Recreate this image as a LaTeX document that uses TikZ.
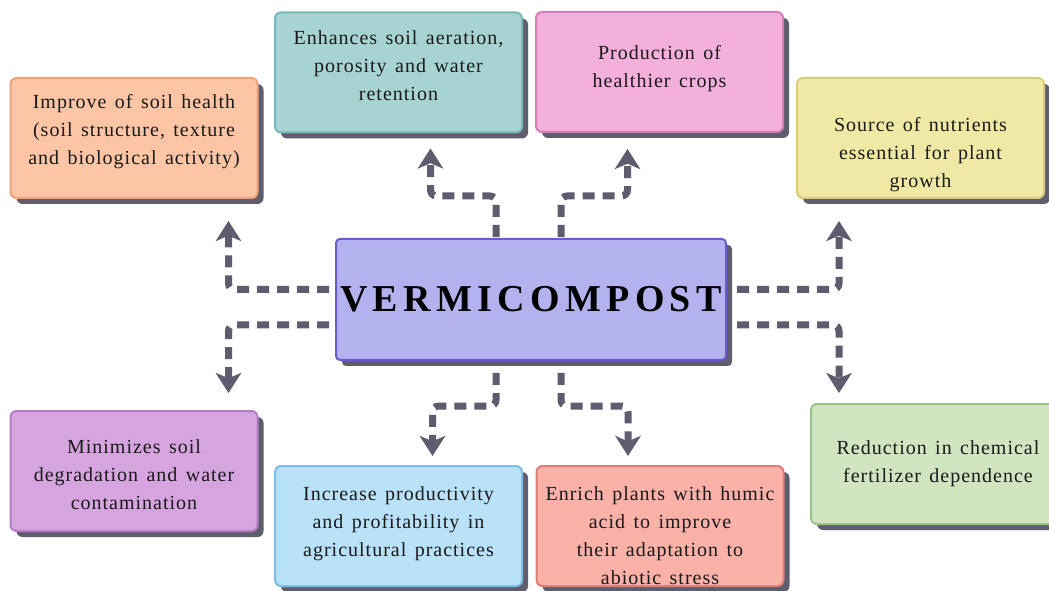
\documentclass[tikz,border=0pt]{standalone}
\usepackage{fontspec}
\setmainfont{Liberation Serif}[LetterSpace=5,WordSpace=1.4]
\newfontfamily\vermifont[LetterSpace=14]{Liberation Serif Bold}
\usetikzlibrary{shadows,arrows.meta,calc}
\definecolor{shd}{HTML}{5F5E6E}
\definecolor{arr}{HTML}{5E5C6E}
\definecolor{oF}{HTML}{FCC5A6}\definecolor{oD}{HTML}{EFA37A}
\definecolor{tF}{HTML}{A8D3D3}\definecolor{tD}{HTML}{78B8B8}
\definecolor{pF}{HTML}{F2B0DB}\definecolor{pD}{HTML}{D77EBA}
\definecolor{yF}{HTML}{F0E9A6}\definecolor{yD}{HTML}{D6CC7A}
\definecolor{cF}{HTML}{B4B2EE}\definecolor{cD}{HTML}{6A5ACD}
\definecolor{mF}{HTML}{D6A5E0}\definecolor{mD}{HTML}{B57CC8}
\definecolor{bF}{HTML}{B9E1F8}\definecolor{bD}{HTML}{7DBEE6}
\definecolor{rF}{HTML}{F9B1A8}\definecolor{rD}{HTML}{DD7F76}
\definecolor{gF}{HTML}{D1E5C1}\definecolor{gD}{HTML}{9CC48A}
\definecolor{txt}{HTML}{1A1A1A}
\begin{document}
\begin{tikzpicture}[x=0.75pt,y=-0.75pt,
  box/.style={draw=#1D,fill=#1F,line width=1.5pt,rounded corners=4.5pt,
    minimum width=185.25pt,minimum height=90pt,inner sep=0pt,
    drop shadow={shadow xshift=4.5pt,shadow yshift=-4.5pt,fill=shd,opacity=1}},
  lbl/.style={anchor=north,align=center,inner sep=0pt,text=txt,
    font=\fontsize{15}{21}\selectfont},
  conn/.style={draw=arr,line width=5.25pt,dash pattern=on 9pt off 6pt,
    rounded corners=4.5pt,-{Stealth[length=15pt,width=19pt,inset=4pt]}}]
\useasboundingbox[fill=white] (0,0) rectangle (1049,591);
% boxes (positions = centres)
\node[box=o] (o) at (134,138) {};
\node[box=t] (t) at (398.5,72.5) {};
\node[box=p] (p) at (659.5,72) {};
\node[box=y] (y) at (920.5,138) {};
\node[box=m] (m) at (134,471) {};
\node[box=b] (b) at (398.5,526) {};
\node[box=r] (r) at (660,526) {};
\node[box=g,minimum width=195pt] (g) at (941,464) {};
\node[draw=cD,fill=cF,line width=1.5pt,rounded corners=3pt,
  minimum width=292.5pt,minimum height=90.75pt,inner sep=0pt,
  drop shadow={shadow xshift=4.5pt,shadow yshift=-4.5pt,fill=shd,opacity=1}]
  (c) at (531,299.5) {\raisebox{-2pt}{\vermifont\fontsize{28.5}{30}\selectfont VERMICOMPOST}};
% labels
\node[lbl] (ol) at ($(o.north)+(0,17)$) {Improve of soil health\\(soil structure, texture\\and biological activity)};
\node[lbl] (tl) at ($(t.north)+(0,19)$) {Enhances soil aeration,\\porosity and water\\retention};
\node[lbl] (pl) at ($(p.north)+(0,34)$) {Production of\\healthier crops};
\node[lbl] (yl) at ($(y.north)+(0,40)$) {Source of nutrients\\essential for plant\\growth};
\node[lbl] (ml) at ($(m.north)+(0,29)$) {Minimizes soil\\degradation and water\\contamination};
\node[lbl] (bl) at ($(b.north)+(0,21)$) {Increase productivity\\and profitability in\\agricultural practices};
\node[lbl] (rl) at ($(r.north)+(0,21)$) {Enrich plants with humic\\acid to improve\\their adaptation to\\abiotic stress};
\node[lbl] (gl) at (938,440) {Reduction in chemical\\fertilizer dependence};
% connectors
\draw[conn] ($(c.west)+(-6,-10)$) -| ($(o.south east)+(-30,22)$);
\draw[conn] ($(c.west)+(-6,25.5)$) -| ($(m.north east)+(-30,-17)$);
\draw[conn] ($(c.east)+(10,-10)$) -| ($(y.south west)+(43,22)$);
\draw[conn] ($(c.east)+(10,25.5)$) -| ($(g.north west)+(29,-10)$);
\draw[conn] ($(c.north west)+(161,-1)$) -- ++(0,-41) -| ($(t.south)+(32,15)$);
\draw[conn] ($(c.north west)+(226,-1)$) -- ++(0,-41) -| ($(p.south)+(-32,16)$);
\draw[conn] ($(c.south west)+(161,12)$) -- ++(0,33) -| ($(b.north)+(34,-9)$);
\draw[conn] ($(c.south west)+(226,12)$) -- ++(0,33) -| ($(r.north)+(-32,-9)$);
\end{tikzpicture}
\end{document}
